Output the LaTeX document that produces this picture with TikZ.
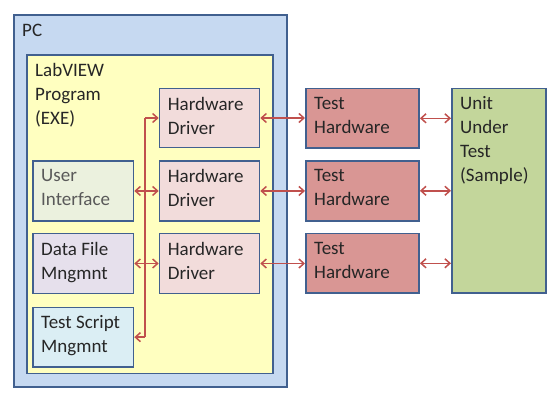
\documentclass[tikz,border=0pt]{standalone}
\usepackage{fontspec}
\setmainfont{Carlito}
\usetikzlibrary{arrows.meta}

\definecolor{boxline}{HTML}{41608F}
\definecolor{pcfill}{HTML}{C6D9F1}
\definecolor{lvfill}{HTML}{FFFFC0}
\definecolor{hdfill}{HTML}{F2DCDB}
\definecolor{uifill}{HTML}{EBF1DE}
\definecolor{dffill}{HTML}{E6E0EC}
\definecolor{tsfill}{HTML}{DBEEF4}
\definecolor{thfill}{HTML}{D99694}
\definecolor{uutfill}{HTML}{C3D69B}
\definecolor{linkred}{HTML}{C0504D}
\definecolor{textcol}{HTML}{262626}
\definecolor{greytext}{HTML}{595959}

\begin{document}
\begin{tikzpicture}[x=1pt, y=-1pt,
    box/.style={rectangle, draw=boxline, line width=1.6pt, anchor=north west, inner sep=0pt},
    txt/.style={anchor=north west, align=left, inner xsep=9pt, inner ysep=9pt,
      font=\fontsize{19}{24}\selectfont, text=textcol},
    wire/.style={draw=linkred, line width=1.5pt},
    link/.style={wire, {Straight Barb[length=5pt,width=9pt]}-{Straight Barb[length=5pt,width=9pt]}},
    feed/.style={wire, -{Straight Barb[length=5pt,width=9pt]}}]
    \useasboundingbox (0,0) rectangle (560,401);

    % Nodes
    \node[box, fill=pcfill, minimum width=273pt, minimum height=371.5pt,
      label={[txt]north west:PC}] (pc) at (13,14.5) {};
    \node[box, fill=lvfill, minimum width=246pt, minimum height=318.5pt,
      label={[txt]north west:{LabVIEW\\Program\\(EXE)}}] (lv) at (26,54) {};

    \node[box, fill=hdfill, minimum width=100pt, minimum height=59pt,
      label={[txt]north west:{Hardware\\Driver}}] (hd1) at (158.7,87.7) {};
    \node[box, fill=hdfill, minimum width=100pt, minimum height=59.7pt,
      label={[txt]north west:{Hardware\\Driver}}] (hd2) at (158.7,160.3) {};
    \node[box, fill=hdfill, minimum width=100pt, minimum height=60pt,
      label={[txt]north west:{Hardware\\Driver}}] (hd3) at (158.7,232.7) {};

    \node[box, fill=uifill, minimum width=100.7pt, minimum height=59.7pt,
      label={[txt, text=greytext]north west:{User\\Interface}}] (ui) at (32,160.3) {};
    \node[box, fill=dffill, minimum width=100.7pt, minimum height=60pt,
      label={[txt]north west:{Data File\\Mngmnt}}] (df) at (32,232.7) {};
    \node[box, fill=tsfill, minimum width=100.7pt, minimum height=59.3pt,
      label={[txt]north west:{Test Script\\Mngmnt}}] (ts) at (32,306.7) {};

    \node[box, fill=thfill, minimum width=113.3pt, minimum height=59.6pt,
      label={[txt]north west:{Test\\Hardware}}] (th1) at (305,87.7) {};
    \node[box, fill=thfill, minimum width=113.3pt, minimum height=60pt,
      label={[txt]north west:{Test\\Hardware}}] (th2) at (305,160) {};
    \node[box, fill=thfill, minimum width=113.3pt, minimum height=59.6pt,
      label={[txt]north west:{Test\\Hardware}}] (th3) at (305,232.7) {};

    \node[box, fill=uutfill, minimum width=94pt, minimum height=204.6pt,
      label={[txt]north west:{Unit\\Under\\Test\\(Sample)}}] (uut) at (451,87.7) {};

    \coordinate (bus) at (145,0);

    % Edges
    \draw[wire] (bus |- hd1.west) -- (bus |- ts.east);
    \draw[feed] (bus |- hd1.west) -- (hd1.west);
    \draw[link] (ui.east) -- (ui.east -| hd2.west);
    \draw[link] (df.east) -- (df.east -| hd3.west);
    \draw[feed] (bus |- ts.east) -- (ts.east);

    \draw[link] (hd1.east) -- (hd1.east -| th1.west);
    \draw[link] (hd2.east) -- (hd2.east -| th2.west);
    \draw[link] (hd3.east) -- (hd3.east -| th3.west);

    \draw[link] (th1.east) -- (th1.east -| uut.west);
    \draw[link] (th2.east) -- (th2.east -| uut.west);
    \draw[link] (th3.east) -- (th3.east -| uut.west);
  \end{tikzpicture}
\end{document}
